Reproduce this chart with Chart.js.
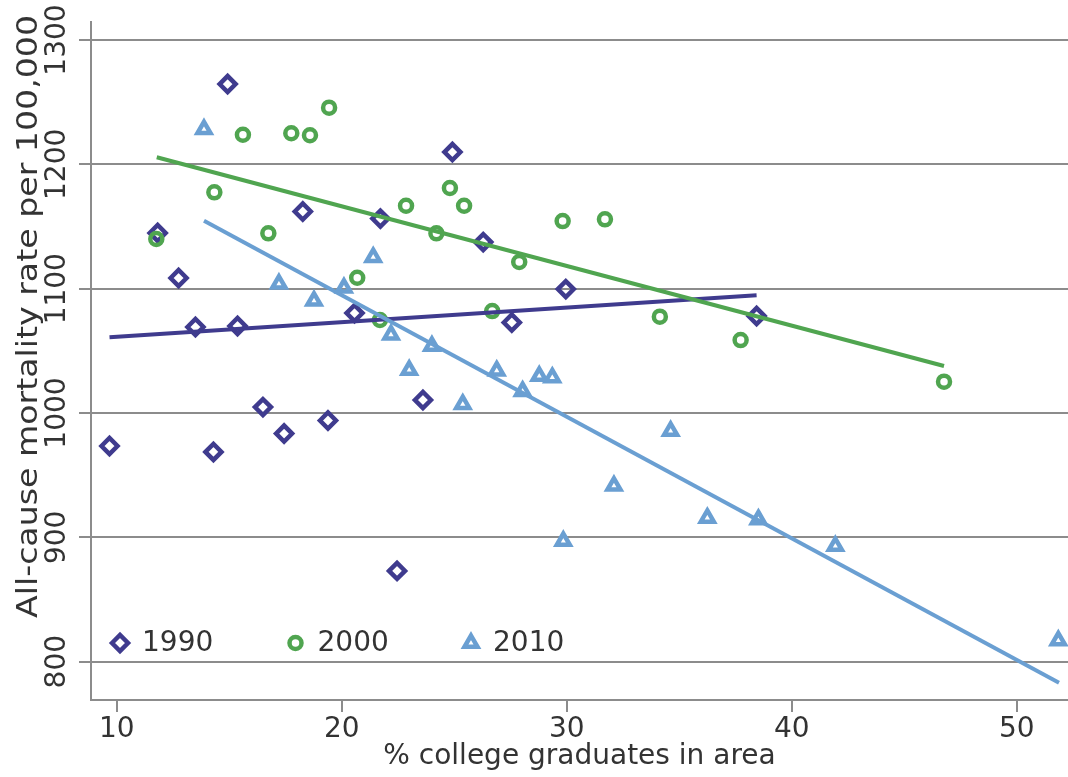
<!DOCTYPE html>
<html>
<head>
<meta charset="utf-8">
<script src="https://cdn.jsdelivr.net/npm/chart.js@4.4.1/dist/chart.umd.min.js"></script>
<style>
  html, body { margin: 0; padding: 0; background: #ffffff; }
  #wrap { width: 1068px; height: 777px; }
</style>
</head>
<body>
<div id="wrap"><canvas id="c" width="1068" height="777"></canvas></div>
<script>
// ---- data ----
const seriesLabels = ['1990', '2000', '2010'];

const x1990 = [9.68, 11.82, 12.75, 13.5, 14.3, 14.93, 15.37, 16.5, 17.44, 18.27, 19.39, 20.57, 21.72, 22.46, 23.61, 24.92, 26.29, 27.56, 29.96, 38.44];
const y1990 = [973.5, 1144.8, 1108.6, 1069.2, 968.7, 1264.6, 1070, 1004.8, 983.5, 1162.1, 994, 1080.4, 1156.4, 873, 1010.5, 1209.9, 1137.5, 1072.8, 1099.7, 1078];

const x2000 = [11.76, 14.34, 15.61, 16.74, 17.76, 18.59, 19.44, 20.69, 21.7, 22.86, 24.21, 24.81, 25.44, 26.69, 27.89, 29.82, 31.7, 34.14, 37.73, 46.77];
const y2000 = [1140, 1177.5, 1223.8, 1144.5, 1225, 1223.4, 1245.6, 1108.8, 1074.8, 1166.7, 1144.5, 1181, 1166.7, 1082, 1121.5, 1154.4, 1155.8, 1077.5, 1058.7, 1025.2];

const x2010 = [13.88, 17.21, 18.77, 20.1, 21.4, 22.19, 23.0, 24.01, 25.38, 26.89, 28.04, 28.78, 29.36, 29.85, 32.1, 34.62, 36.25, 38.52, 41.94, 51.85];
const y2010 = [1228.2, 1103.9, 1090.3, 1100.7, 1125.3, 1063, 1034.6, 1053.9, 1007.1, 1034.1, 1017.6, 1029.7, 1028.6, 897, 941.5, 985.5, 915.6, 914.4, 893, 817];

// fitted lines (end points)
const fitX1990 = [9.68, 38.44];
const fitY1990 = [1060.9, 1094.7];
const fitX2000 = [11.78, 46.77];
const fitY2000 = [1205.7, 1037.8];
const fitX2010 = [13.88, 51.88];
const fitY2010 = [1154.7, 783.1];

const xTicks = [10, 20, 30, 40, 50];
const yTicks = [800, 900, 1000, 1100, 1200, 1300];

const xTitle = '% college graduates in area';
const yTitle = 'All-cause mortality rate per 100,000';

// ---- styling ----
const colors = ['#3f3b8e', '#50a550', '#6a9fd2'];
const styles = ['rectRot', 'circle', 'triangle'];
const radii = [8, 6, 7.5];
const borders = [4.5, 4.5, 4.5];
const FONT = 'DejaVu Sans';
const TXT = '#333333';
const GRID = '#8c8c8c';
// the reference's vertical title is drawn elongated along its direction
const Y_TITLE_STRETCH = 1.185;
const Y_TITLE_PIVOT = 60;

const pts = (xs, ys) => xs.map((x, i) => ({x: x, y: ys[i]}));

function markerSet(i, xs, ys, order) {
  return {
    label: seriesLabels[i],
    data: pts(xs, ys),
    showLine: false,
    pointStyle: styles[i],
    pointRadius: radii[i],
    pointHoverRadius: radii[i],
    pointBorderWidth: borders[i],
    pointBorderColor: colors[i],
    pointBackgroundColor: 'rgba(0,0,0,0)',
    borderColor: colors[i],
    backgroundColor: 'rgba(0,0,0,0)',
    order: order
  };
}
function fitSet(i, xs, ys, order) {
  return {
    label: seriesLabels[i] + ' fit',
    data: pts(xs, ys),
    showLine: true,
    pointRadius: 0,
    pointHoverRadius: 0,
    borderColor: colors[i],
    borderWidth: 4,
    fill: false,
    order: order,
    isFit: true
  };
}

const legendPlugin = {
  id: 'insideLegend',
  afterDatasetsDraw(chart) {
    const ctx = chart.ctx;
    const area = chart.chartArea;
    const y = area.bottom - 57;
    ctx.save();
    ctx.font = '28px "' + FONT + '"';
    ctx.textBaseline = 'middle';
    ctx.textAlign = 'left';
    chart.data.datasets.filter(d => !d.isFit).forEach((d) => {
      const idx = seriesLabels.indexOf(d.label);
      const cx = area.left + 29 + idx * 175.5;
      ctx.lineWidth = borders[idx];
      ctx.strokeStyle = colors[idx];
      ctx.fillStyle = 'rgba(0,0,0,0)';
      Chart.helpers.drawPoint(ctx, {pointStyle: styles[idx], radius: radii[idx], rotation: 0, borderWidth: borders[idx]}, cx, y);
      ctx.fillStyle = TXT;
      ctx.fillText(d.label, cx + 22, y + 1);
    });
    ctx.restore();
  }
};

function stretchYTitle(scale) {
  if (scale._titleStretched) return;
  const orig = scale.drawTitle;
  scale.drawTitle = function () {
    const ctx = this.ctx;
    ctx.save();
    ctx.translate(0, Y_TITLE_PIVOT);
    ctx.scale(1, Y_TITLE_STRETCH);
    ctx.translate(0, -Y_TITLE_PIVOT);
    orig.apply(this, arguments);
    ctx.restore();
  };
  scale._titleStretched = true;
}

new Chart(document.getElementById('c'), {
  type: 'scatter',
  data: {
    datasets: [
      markerSet(0, x1990, y1990, 5),
      markerSet(1, x2000, y2000, 4),
      markerSet(2, x2010, y2010, 3),
      fitSet(0, fitX1990, fitY1990, 2),
      fitSet(1, fitX2000, fitY2000, 1),
      fitSet(2, fitX2010, fitY2010, 0)
    ]
  },
  options: {
    responsive: false,
    animation: false,
    devicePixelRatio: 1,
    layout: { autoPadding: false, padding: { top: 22, right: 0, bottom: 0, left: 0 } },
    plugins: {
      legend: { display: false },
      tooltip: { enabled: false }
    },
    scales: {
      x: {
        type: 'linear',
        min: 8.858,
        max: 52.28,
        afterBuildTicks: (scale) => { scale.ticks = xTicks.map(v => ({value: v})); },
        afterFit: (scale) => { scale.height = 77; },
        grid: { drawOnChartArea: false, drawTicks: true, tickLength: 12, color: GRID, lineWidth: 2 },
        border: { display: true, color: GRID, width: 2 },
        ticks: { font: { family: FONT, size: 28 }, color: TXT, padding: 1, maxRotation: 0, minRotation: 0,
                 callback: (v) => String(v) },
        title: { display: true, text: xTitle, font: { family: FONT, size: 28 }, color: TXT, padding: { top: 0, bottom: 3 } }
      },
      y: {
        type: 'linear',
        min: 769.2,
        max: 1314.5,
        afterBuildTicks: (scale) => { scale.ticks = yTicks.map(v => ({value: v})); },
        afterFit: (scale) => { scale.width = 91; stretchYTitle(scale); },
        grid: { drawOnChartArea: true, drawTicks: true, tickLength: 12, color: GRID, lineWidth: 2 },
        border: { display: true, color: GRID, width: 2 },
        ticks: { font: { family: FONT, size: 28 }, color: TXT, padding: -14, minRotation: 90, maxRotation: 90, crossAlign: 'center',
                 callback: (v) => String(v) },
        title: { display: true, text: yTitle, align: 'end', font: { family: FONT, size: 28 }, color: TXT, padding: { top: 13, bottom: 0 } }
      }
    }
  },
  plugins: [legendPlugin]
});
</script>
</body>
</html>
